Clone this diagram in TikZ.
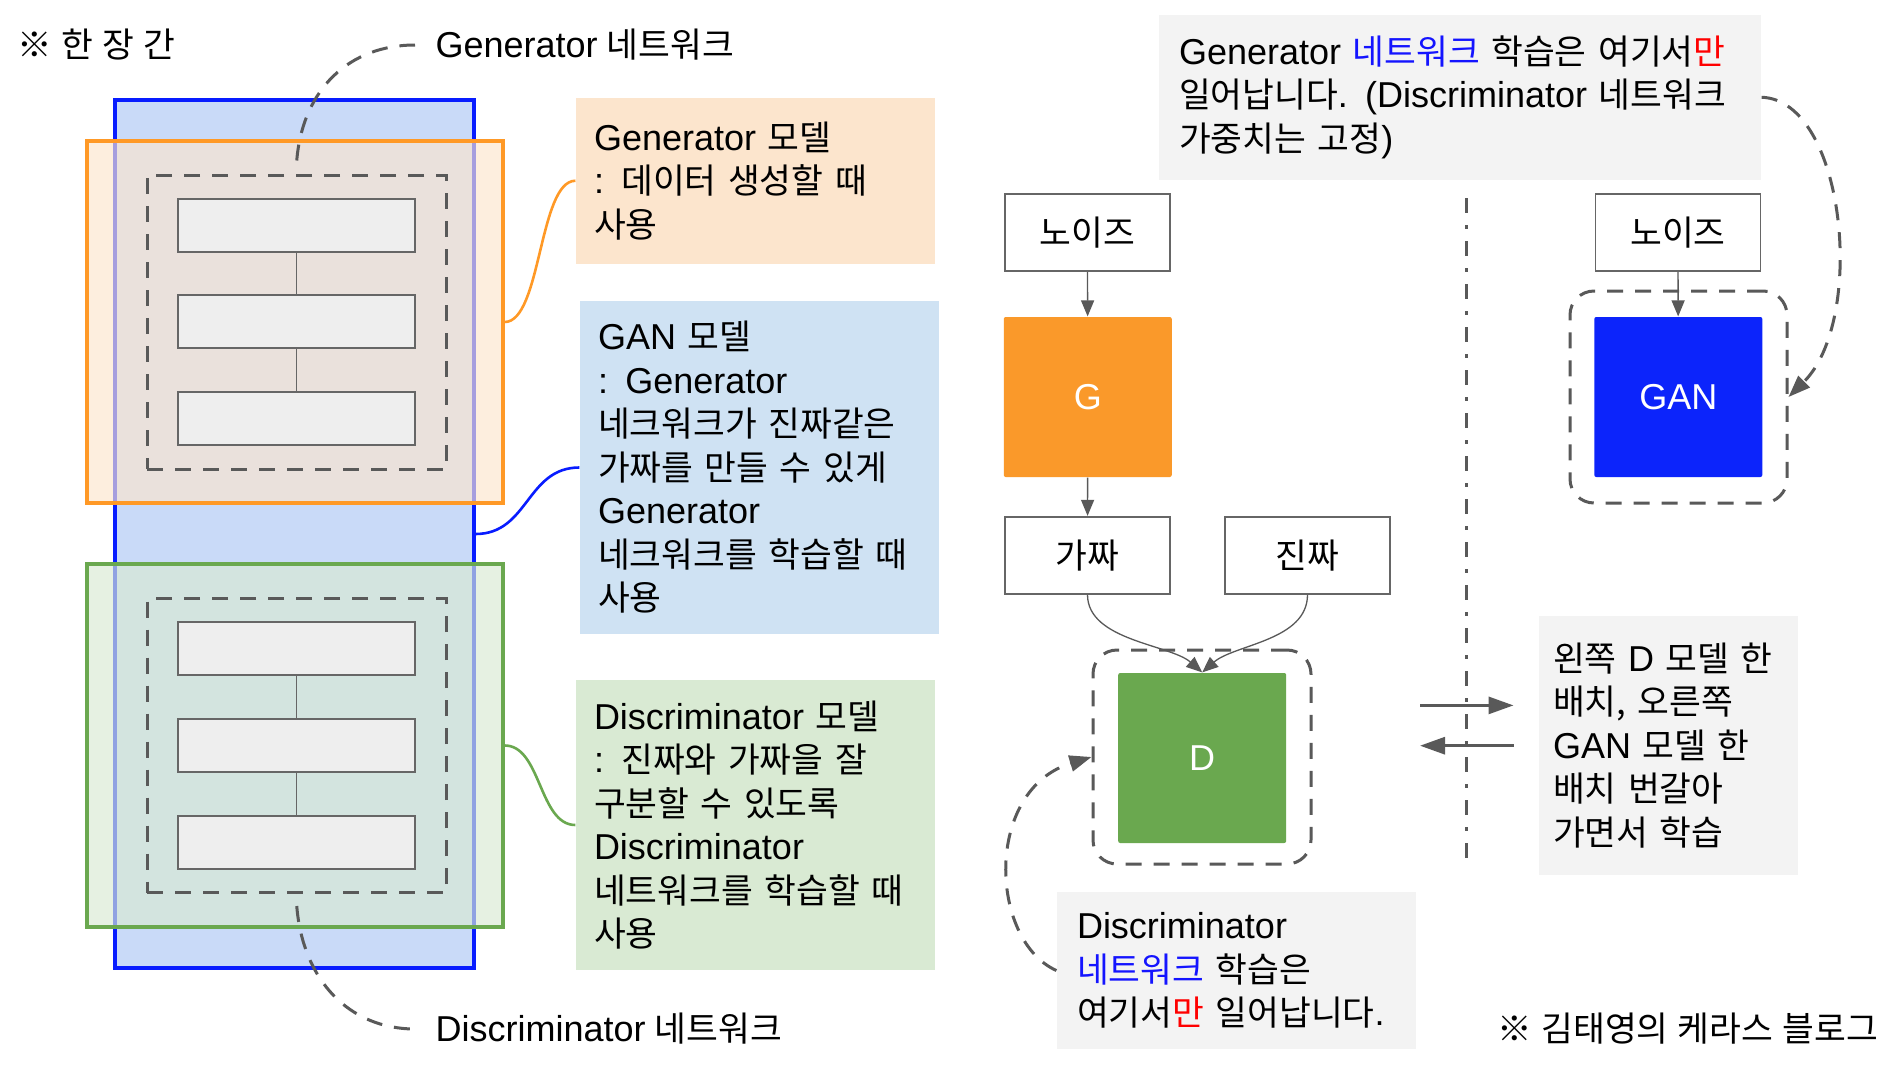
\documentclass[tikz,border=0pt]{standalone}
\usepackage{fontspec}
\setmainfont{Noto Sans CJK KR}[Scale=0.96,WordSpace=1.2]
\newfontfamily\enfont{Liberation Sans}
\newcommand\bodyfont{\fontsize{18pt}{21.75pt}\selectfont}
\usepackage{xcolor}
\usepackage{tikz}
\usetikzlibrary{arrows.meta}
\definecolor{barblue}{RGB}{201,218,248}
\definecolor{lineblue}{RGB}{8,28,255}
\definecolor{lineorange}{RGB}{255,153,38}
\definecolor{linegreen}{RGB}{106,168,79}
\definecolor{peach}{RGB}{252,229,205}
\definecolor{sky}{RGB}{207,226,243}
\definecolor{mint}{RGB}{217,234,211}
\definecolor{paper}{RGB}{243,243,243}
\definecolor{dashgray}{RGB}{89,89,89}
\definecolor{layergray}{RGB}{102,102,102}
\definecolor{layerfill}{RGB}{238,238,238}
\definecolor{gorange}{RGB}{250,153,42}
\definecolor{ganblue}{RGB}{12,36,251}
\definecolor{netblue}{RGB}{20,20,255}
\definecolor{onlyred}{RGB}{255,0,0}

\begin{document}
\begin{tikzpicture}[x=0.5pt,y=-0.5pt,line width=0.6pt,font=\bodyfont,
    layerbox/.style={draw=layergray,line width=0.9pt,fill=layerfill,minimum width=118.5pt,minimum height=26.5pt},
    netbox/.style={draw=dashgray,line width=1.5pt,dash pattern=on 8pt off 6pt,minimum width=149.75pt,minimum height=147pt},
    notebox/.style={inner xsep=9pt,align=left},
    databox/.style={draw=layergray,line width=0.9pt,fill=white,minimum width=82.5pt,minimum height=38.5pt},
    corebox/.style={text=white,font=\bodyfont\enfont,minimum width=84pt,rounded corners=1pt},
    roundframe/.style={draw=dashgray,line width=1.5pt,dash pattern=on 8pt off 6pt,rounded corners=12pt,minimum width=108.5pt,minimum height=106pt},
    flow/.style={draw=dashgray,line width=0.65pt,-{Triangle[length=8pt,width=6.5pt]}},
    dashflow/.style={draw=dashgray,line width=1.5pt,dash pattern=on 8pt off 6pt,-{Triangle[length=11pt,width=8pt]}},
    bigflow/.style={draw=dashgray,line width=1.5pt,-{Triangle[length=12.5pt,width=8.5pt]}}]
  \path[use as bounding box,fill=white] (0,0) rectangle (1892,1066);

  \node[draw=lineblue,line width=1.6pt,fill=barblue,minimum width=179.5pt,minimum height=434pt] (ganbar) at (294.5,534) {};
  \node[draw=lineorange,line width=1.7pt,fill=peach,fill opacity=0.65,minimum width=208pt,minimum height=181pt] (gpart) at (295,322) {};
  \node[draw=linegreen,line width=1.7pt,fill=mint,fill opacity=0.65,minimum width=208pt,minimum height=181.5pt] (dpart) at (295,745.5) {};
  \node[netbox] (gnet) at (296.75,322) {};
  \node[netbox] (dnet) at (296.75,745.5) {};
  \node[layerbox] (g1) at (296.5,225.5) {};
  \node[layerbox] (g2) at (296.5,321.5) {};
  \node[layerbox] (g3) at (296.5,418.5) {};
  \node[layerbox] (d1) at (296.5,648.5) {};
  \node[layerbox] (d2) at (296.5,745.5) {};
  \node[layerbox] (d3) at (296.5,842.5) {};
  \draw[layergray,line width=0.9pt] (g1) -- (g2) (g2) -- (g3) (d1) -- (d2) (d2) -- (d3);

  \node[anchor=west,inner sep=0pt] (mark) at (17,45) {※ 한 장 간};
  \node[anchor=west,inner xsep=10pt,inner ysep=0pt] (gnetlabel) at (415,45) {{\enfont Generator} 네트워크};
  \node[anchor=west,inner xsep=10pt,inner ysep=0pt] (dnetlabel) at (415,1029) {{\enfont Discriminator} 네트워크};
  \draw[dashgray,line width=1.5pt,dash pattern=on 8pt off 6pt] ([yshift=6.5pt]gnet.north) .. controls +(6,-72) and +(-65,0) .. (gnetlabel.west);
  \draw[dashgray,line width=1.5pt,dash pattern=on 8pt off 6pt] ([yshift=-6pt]dnet.south) .. controls +(6,75) and +(-65,0) .. (dnetlabel.west);

  \node[notebox,fill=peach,text width=161.5pt,minimum height=82.75pt] (gnote) at (755.5,180.75)
    {{\enfont Generator} 모델\\{\enfont :} 데이터 생성할 때\\사용};
  \node[notebox,fill=sky,text width=161.25pt,minimum height=166.5pt] (gannote) at (759.25,467.5)
    {{\enfont GAN} 모델\\{\enfont : Generator}\\네크워크가 진짜같은\\가짜를 만들 수 있게\\{\enfont Generator}\\네크워크를 학습할 때\\사용};
  \node[notebox,fill=mint,text width=161.5pt,minimum height=145pt] (dnote) at (755.5,825)
    {{\enfont Discriminator} 모델\\{\enfont :} 진짜와 가짜을 잘\\구분할 수 있도록\\{\enfont Discriminator}\\네트워크를 학습할 때\\사용};
  \draw[lineorange,line width=1.3pt] (gpart.east) .. controls +(36.5,0) and +(-36.5,0) .. (gnote.west);
  \draw[lineblue,line width=1.3pt] (ganbar.east) .. controls +(53,0) and +(-53,0) .. (gannote.west);
  \draw[linegreen,line width=1.3pt] (dpart.east) .. controls +(36.5,0) and +(-36.5,0) .. (dnote.west);

  \node[notebox,fill=paper,inner xsep=10pt,text width=281pt,minimum height=82.75pt] (topnote) at (1460,97.25)
    {{\enfont Generator} \textcolor{netblue}{네트워크} 학습은 여기서\textcolor{onlyred}{만}\\일어납니다{\enfont . (Discriminator} 네트워크\\가중치는 고정{\enfont )}};
  \node[databox] (noiseL) at (1087.5,232.75) {노이즈};
  \node[corebox,fill=gorange,minimum height=80pt] (G) at (1087.75,397) {G};
  \node[databox] (fake) at (1087.5,555.25) {가짜};
  \node[databox] (real) at (1307.5,555.25) {진짜};
  \node[roundframe,minimum width=109pt,minimum height=107pt] (Dframe) at (1202,757) {};
  \node[corebox,fill=linegreen,minimum height=85pt] (D) at (1202.2,758) {D};
  \node[databox] (noiseR) at (1678,232.75) {노이즈};
  \node[roundframe] (GANframe) at (1678.5,397) {};
  \node[corebox,fill=ganblue,minimum height=80pt] (GAN) at (1678.3,397) {GAN};
  \node[notebox,fill=paper,inner xsep=7pt,text width=115.5pt,minimum height=129.75pt] (swapnote) at (1668.5,745.25)
    {왼쪽 {\enfont D} 모델 한\\배치, 오른쪽\\{\enfont GAN} 모델 한\\배치 번갈아\\가면서 학습};
  \node[notebox,fill=paper,inner xsep=10pt,text width=159.3pt,minimum height=78.1pt] (dlearn) at (1236.3,970.5)
    {{\enfont Discriminator}\\\textcolor{netblue}{네트워크} 학습은\\여기서\textcolor{onlyred}{만} 일어납니다{\enfont .}};
  \node[anchor=west,inner sep=0pt] (credit) at (1497,1029) {※ 김태영의 케라스 블로그};

  \draw[flow] (noiseL) -- (G);
  \draw[flow] (G) -- (fake);
  \draw[flow] (noiseR) -- (GAN);
  \draw[flow] (fake.south) .. controls +(0,46) and +(-32,-28) .. (D.north);
  \draw[flow] (real.south) .. controls +(0,46) and +(32,-28) .. (D.north);
  \draw[dashflow] (topnote.east) .. controls +(84,3) and +(78,-77) .. (GANframe.east);
  \draw[dashflow] (dlearn.west) .. controls +(-67,-30) and +(-108,33) .. (Dframe.west);

  \draw[dashgray,line width=1.5pt,dash pattern=on 7.5pt off 6pt on 2pt off 6pt] (1466.7,198) -- (1466.7,867);
  \coordinate (swapL) at (1420,705.4);
  \coordinate (swapR) at (1513.5,705.4);
  \coordinate (backR) at (1513.5,745.7);
  \coordinate (backL) at (1420,745.7);
  \draw[bigflow] (swapL) -- (swapR);
  \draw[bigflow] (backR) -- (backL);
\end{tikzpicture}
\end{document}
